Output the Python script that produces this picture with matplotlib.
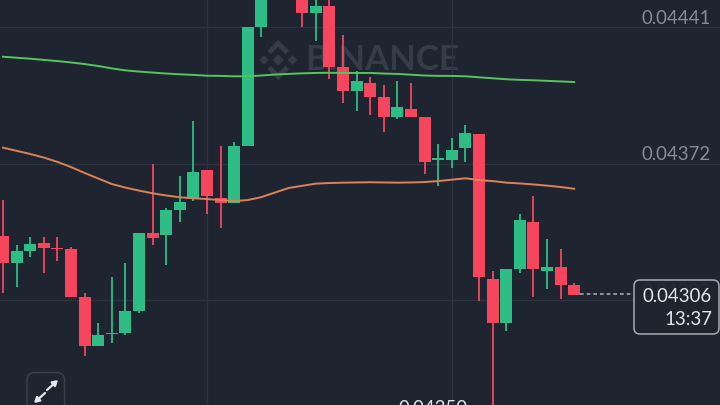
import numpy as np
import matplotlib
matplotlib.use("Agg")
import matplotlib.pyplot as plt
from matplotlib.patches import FancyBboxPatch, Polygon

# prices in millionths
opens = [43357, 43219, 43278, 43318, 43296, 43288, 43047, 42797, 42858, 42866, 42977,
         43369, 43359, 43488, 43541, 43688, 43547, 43520, 43809, 44411, 44610, 44680,
         44590, 44482, 44520, 44210, 44090, 44129, 44058, 43959, 43999, 43959, 43740,
         43740, 43799, 43870, 43138, 42917, 43188, 43428, 43178, 43197, 43107]
highs = [43537, 43308, 43349, 43349, 43349, 43298, 43065, 42917, 43146, 43217, 43369,
         43719, 43497, 43659, 43938, 43688, 43810, 43829, 44411, 44650, 44720, 44700,
         44620, 44564, 44564, 44370, 44190, 44158, 44119, 44139, 44129, 43959, 43819,
         43849, 43918, 43870, 43178, 43188, 43468, 43558, 43338, 43288, 43116]
lows = [43068, 43097, 43247, 43168, 43227, 43048, 42747, 42797, 42815, 42856, 42967,
        43308, 43207, 43428, 43532, 43468, 43397, 43520, 43809, 44360, 44590, 44570,
        44411, 44342, 44151, 44030, 43989, 43969, 43880, 43949, 43959, 43670, 43610,
        43699, 43730, 43028, 42500, 42876, 43168, 43048, 43087, 43038, 43057]
closes = [43219, 43278, 43316, 43296, 43289, 43048, 42797, 42856, 42864, 42976, 43369,
          43347, 43488, 43527, 43677, 43558, 43520, 43809, 44411, 44610, 44680, 44600,
          44482, 44520, 44210, 44090, 44139, 44060, 43959, 44009, 43959, 43730, 43748,
          43789, 43878, 43148, 42917, 43188, 43438, 43188, 43197, 43107, 43057]
ma_long = [44262, 44257, 44252, 44246, 44240, 44233, 44225, 44215, 44203, 44193, 44187,
           44182, 44177, 44173, 44170, 44166, 44165, 44163, 44163, 44167, 44172, 44175,
           44178, 44180, 44181, 44180, 44180, 44180, 44177, 44175, 44171, 44167, 44165,
           44165, 44163, 44158, 44153, 44148, 44145, 44143, 44140, 44137, 44134]
ma_short = [43802, 43786, 43770, 43752, 43730, 43704, 43674, 43646, 43618, 43600, 43585,
            43571, 43560, 43551, 43546, 43542, 43537, 43532, 43537, 43552, 43575, 43598,
            43609, 43620, 43623, 43625, 43626, 43627, 43626, 43625, 43626, 43628, 43633,
            43640, 43647, 43638, 43633, 43625, 43621, 43616, 43610, 43603, 43594]
grid_prices = [0.04441, 0.04372, 0.04303]
grid_labels = ["0.04441", "0.04372", "0.04303"]
grid_candles = [15, 33]
last_price = 0.04306
last_label = "0.04306"
countdown = "13:37"
low_label = "0.04250"

BG = "#1f2530"
GREEN = "#2ebd85"
RED = "#f6465d"
GRID = "#2e343f"
MARK = "#363c47"
FONT = "Lato"

o = np.array(opens) * 1e-6
h = np.array(highs) * 1e-6
l = np.array(lows) * 1e-6
c = np.array(closes) * 1e-6
idx = np.arange(len(o))
colors = [GREEN if ci >= oi else RED for oi, ci in zip(o, c)]

fig = plt.figure(figsize=(7.2, 4.05), dpi=100, facecolor=BG)

# watermark sits under the candles
back = fig.add_axes([0, 0, 1, 1], zorder=0)
back.set_xlim(0, 720)
back.set_ylim(405, 0)
back.axis("off")
back.text(305, 60.5, "BINANCE", color=MARK, fontsize=25, fontweight="bold",
          family=FONT, va="center", ha="left")
for cx, cy, r in [(264, 60, 4.8), (292.5, 60, 4.8), (278.2, 60, 5.5)]:
    back.add_patch(Polygon([(cx - r, cy), (cx, cy - r), (cx + r, cy), (cx, cy + r)],
                           facecolor=MARK, edgecolor="none"))
# top and bottom chevrons of the logo
back.add_patch(Polygon([(278.2, 40), (289, 50.8), (285.6, 54.2), (278.2, 46.8), (270.8, 54.2), (267.4, 50.8)],
                       facecolor=MARK, edgecolor="none"))
back.add_patch(Polygon([(278.2, 80), (289, 69.2), (285.6, 65.8), (278.2, 73.2), (270.8, 65.8), (267.4, 69.2)],
                       facecolor=MARK, edgecolor="none"))

ax = fig.add_axes([0, 0, 1, 1], zorder=1)
ax.patch.set_visible(False)
ax.set_xlim(-0.2206, 52.72)
ax.set_ylim(0.0425002, 0.044549)
ax.axis("off")

for p in grid_prices:
    ax.axhline(p, color=GRID, lw=1, zorder=1)
for g in grid_candles:
    ax.axvline(g, color=GRID, lw=1, zorder=1)

ax.vlines(idx, l, h, colors=colors, lw=1.3, zorder=3)
ax.bar(idx, np.abs(c - o), bottom=np.minimum(o, c), width=0.88, color=colors, zorder=3)

ax.plot(idx, np.array(ma_long) * 1e-6, color="#56c45f", lw=1.4, zorder=4)
ax.plot(idx, np.array(ma_short) * 1e-6, color="#dc8258", lw=1.4, zorder=4)

ax.plot([idx[-1] + 0.45, 46.35], [last_price, last_price], color="#a3a8b0", lw=1.2,
        dashes=(2.2, 1.8), zorder=2)

trans = ax.get_yaxis_transform()
for p, lab in zip(grid_prices, grid_labels):
    ax.text(0.9875, p + 0.000046, lab, transform=trans, ha="right", va="center",
            color="#868c97", fontsize=13.4, family=FONT)

# price tag, low marker and expand button are placed in pixels
top = fig.add_axes([0, 0, 1, 1], zorder=2)
top.patch.set_visible(False)
top.set_xlim(0, 720)
top.set_ylim(405, 0)
top.axis("off")
top.add_patch(FancyBboxPatch((634, 280), 85, 54, boxstyle="round,pad=0,rounding_size=6",
                             facecolor=(0.122, 0.145, 0.188, 0.93), edgecolor="#a6abb3", lw=1.1))
top.text(712, 296, last_label, color="#e4e6ea", fontsize=13.4, family=FONT, ha="right", va="center")
top.text(712, 319.5, countdown, color="#e4e6ea", fontsize=13.4, family=FONT, ha="right", va="center")
top.text(433, 408, low_label, color="#e4e6ea", fontsize=13.4, family=FONT, ha="center", va="center")
top.add_patch(FancyBboxPatch((27, 372.5), 37.5, 45, boxstyle="round,pad=0,rounding_size=8",
                             facecolor=BG, edgecolor="#3a404b", lw=1.1))
top.annotate("", xy=(58, 380), xytext=(47, 390),
             arrowprops=dict(arrowstyle="-|>,head_width=0.18,head_length=0.3", color="#e4e6ea", lw=1.6, shrinkA=0, shrinkB=0))
top.annotate("", xy=(34, 403), xytext=(45, 393),
             arrowprops=dict(arrowstyle="-|>,head_width=0.18,head_length=0.3", color="#e4e6ea", lw=1.6, shrinkA=0, shrinkB=0))

fig.savefig("out.png", dpi=100, facecolor=BG)
